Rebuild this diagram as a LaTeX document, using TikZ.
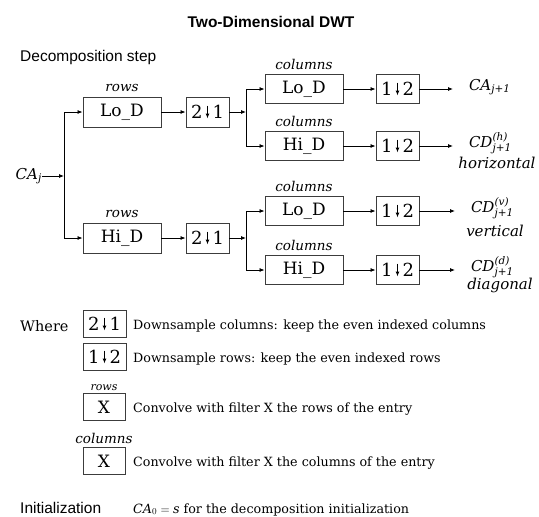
\documentclass[tikz,border=0pt]{standalone}
\usepackage{amsmath}
\usepackage{fontspec}
\setmainfont{DejaVu Serif}
\newfontfamily\headfont{Liberation Sans}
\usepackage{tikz}
\usetikzlibrary{arrows.meta,positioning}
\definecolor{Edge}{HTML}{3C3C3C}

% small down-arrow used inside the downsampling boxes
\newcommand{\dsarrow}{\tikz[baseline=0pt,x=1pt,y=1pt]\draw[line width=1pt,-{Latex[length=5pt,width=4pt]}] (0,13) -- (0,0);}
\newcommand{\ds}[2]{#1\hspace{3pt}\dsarrow\hspace{3pt}#2}

\begin{document}
\begin{tikzpicture}[x=1pt,y=-1pt,
  every node/.style={inner sep=0pt},
  box/.style={draw=Edge,line width=0.9pt,minimum height=30pt,font=\fontsize{17}{20}\selectfont},
  filt/.style={box,minimum width=78pt},
  dsbox/.style={box,minimum width=43pt,font=\fontsize{18}{21}\selectfont},
  xbox/.style={box,minimum width=42pt,minimum height=27pt},
  dir/.style={font=\fontsize{13.5}{16}\selectfont\itshape},
  note/.style={font=\fontsize{12.7}{15}\selectfont,anchor=base west},
  sig/.style={font=\fontsize{15}{18}\selectfont},
  outl/.style={sig,anchor=base west,outer sep=16pt},
  head/.style={font=\headfont\fontsize{15.5}{18}\selectfont},
  flow/.style={line width=0.8pt,-{Latex[length=5pt,width=4pt]}}]
  \useasboundingbox (0,0) rectangle (539,517);

  \node[head] (title) at (271,22) {\bfseries Two-Dimensional DWT};
  \node[head,anchor=west] (step) at (20,57) {Decomposition step};

  % rows stage
  \node[sig,anchor=east] (caj) at (42,176) {$\textit{CA}_{\textit{j}}$};
  \coordinate (jin) at (64,176);
  \node[filt] (rlo) at (122,112) {Lo\_D};
  \node[filt] (rhi) at (122,238) {Hi\_D};
  \node[dir,above=5pt of rlo] (rlo-l) {rows};
  \node[dir,above=5pt of rhi] (rhi-l) {rows};
  \node[dsbox] (dr1) at (207.5,112) {\ds21};
  \node[dsbox] (dr2) at (207.5,238) {\ds21};
  \coordinate (ja) at (246,112);
  \coordinate (jb) at (246,238);

  % columns stage
  \node[filt,minimum height=29pt] (clo1) at (304,89) {Lo\_D};
  \node[filt,minimum height=29pt] (chi1) at (304,146) {Hi\_D};
  \node[filt,minimum height=29pt] (clo2) at (304,211) {Lo\_D};
  \node[filt,minimum height=29pt] (chi2) at (304,270) {Hi\_D};
  \node[dir,above=4pt of clo1] (clo1-l) {columns};
  \node[dir,above=4pt of chi1] (chi1-l) {columns};
  \node[dir,above=4pt of clo2] (clo2-l) {columns};
  \node[dir,above=4pt of chi2] (chi2-l) {columns};
  \node[dsbox,minimum height=29pt] (dc1) at (397.5,89) {\ds12};
  \node[dsbox,minimum height=29pt] (dc2) at (397.5,146) {\ds12};
  \node[dsbox,minimum height=29pt] (dc3) at (397.5,211) {\ds12};
  \node[dsbox,minimum height=29pt] (dc4) at (397.5,270) {\ds12};

  % outputs
  \node[outl] (ca) at (453,90) {$\textit{CA}_{\textit{j+1}}$};
  \node[outl] (cdh) at (453,147) {$\textit{CD}^{\textit{(h)}}_{\textit{j+1}}$};
  \node[outl] (cdv) at (455,212) {$\textit{CD}^{\textit{(v)}}_{\textit{j+1}}$};
  \node[outl] (cdd) at (455,271) {$\textit{CD}^{\textit{(d)}}_{\textit{j+1}}$};
  \node[dir,font=\fontsize{15}{18}\selectfont\itshape] (hor) at (497,163) {horizontal};
  \node[dir,font=\fontsize{15}{18}\selectfont\itshape] (ver) at (495,231) {vertical};
  \node[dir,font=\fontsize{15}{18}\selectfont\itshape] (dia) at (500,285) {diagonal};

  \draw[flow] (caj) -- (jin);
  \draw[flow] (jin) |- (rlo);
  \draw[flow] (jin) |- (rhi);
  \draw[flow] (rlo) -- (dr1);
  \draw[flow] (rhi) -- (dr2);
  \draw[flow] (dr1) -- (ja);
  \draw[flow] (dr2) -- (jb);
  \draw[flow] (ja) |- (clo1);
  \draw[flow] (ja) |- (chi1);
  \draw[flow] (jb) |- (clo2);
  \draw[flow] (jb) |- (chi2);
  \draw[flow] (clo1) -- (dc1);
  \draw[flow] (chi1) -- (dc2);
  \draw[flow] (clo2) -- (dc3);
  \draw[flow] (chi2) -- (dc4);
  \draw[flow] (dc1) -- (dc1 -| ca.west);
  \draw[flow] (dc2) -- (dc2 -| cdh.west);
  \draw[flow] (dc3) -- (dc3 -| cdv.west);
  \draw[flow] (dc4) -- (dc4 -| cdd.west);

  % legend
  \node[font=\fontsize{14.5}{17}\selectfont,anchor=base west] (where) at (20,331) {Where};
  \node[dsbox,minimum height=27pt] (k1) at (104.5,324) {\ds21};
  \node[dsbox,minimum height=27pt] (k2) at (104.5,357) {\ds12};
  \node[xbox] (k3) at (104,407) {X};
  \node[xbox] (k4) at (104,461) {X};
  \node[dir,font=\fontsize{11}{13}\selectfont\itshape,above=2pt of k3] (k3-l) {rows};
  \node[dir,above=3pt of k4] (k4-l) {columns};
  \node[note] (t1) at (133,329) {Downsample columns: keep the even indexed columns};
  \node[note] (t2) at (133,362) {Downsample rows: keep the even indexed rows};
  \node[note] (t3) at (133,412) {Convolve with filter X the rows of the entry};
  \node[note] (t4) at (133,466) {Convolve with filter X the columns of the entry};

  \node[head,anchor=base west] (init) at (20,513) {Initialization};
  \node[note] (t5) at (133,513) {$\textit{CA}_0 = \textit{s}$ for the decomposition initialization};
\end{tikzpicture}
\end{document}
